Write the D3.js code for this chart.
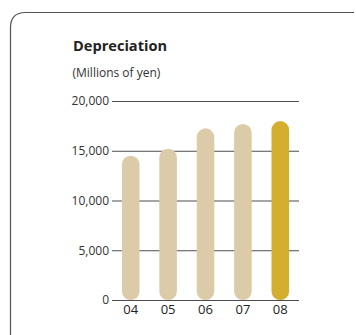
<!DOCTYPE html>
<html>
<head>
<meta charset="utf-8">
<script src="https://cdn.jsdelivr.net/npm/d3@7"></script>
<style>
  html, body { margin: 0; padding: 0; background: #fff; }
  svg { display: block; font-family: "Open Sans", "Noto Sans", sans-serif; }
</style>
</head>
<body>
<svg id="chart" width="356" height="335"></svg>
<script>
// Depreciation by fiscal year (millions of yen)
const years = ["04", "05", "06", "07", "08"];
const depreciation = [14500, 15200, 17250, 17700, 17980];
const yTicks = [0, 5000, 10000, 15000, 20000];
const barColors = ["#dccba9", "#dccba9", "#dccba9", "#dccba9", "#d4ae2f"];

const svg = d3.select("#chart");

// Card frame: rounded top-left corner, open at the right and bottom
const r = 15;
svg.append("path")
  .attr("d", `M10.5,335 L10.5,${12.5 + r} Q10.5,12.5 ${10.5 + r},12.5 L354,12.5`)
  .attr("fill", "none")
  .attr("stroke", "#555")
  .attr("stroke-width", 1.2);

// Titles
svg.append("text")
  .attr("x", 73).attr("y", 51)
  .attr("font-size", 14.6).attr("font-weight", 700).attr("fill", "#222")
  .text("Depreciation");
svg.append("text")
  .attr("x", 72.5).attr("y", 77)
  .attr("font-size", 12).attr("fill", "#333")
  .text("(Millions of yen)");

// Scales
const x = d3.scaleBand()
  .domain(years)
  .range([112, 299])
  .paddingInner(0.53)
  .paddingOuter(0.265);

const y = d3.scaleLinear()
  .domain([0, 20000])
  .range([300, 101]);

// Y axis with full-width gridlines
const yAxis = svg.append("g")
  .attr("transform", "translate(112,0)")
  .call(d3.axisLeft(y)
    .tickValues(yTicks)
    .tickSize(-187)
    .tickPadding(3)
    .tickFormat(d3.format(",")));
yAxis.select(".domain").remove();
yAxis.selectAll(".tick line").attr("stroke", "#4d4d4d").attr("stroke-width", 1.1);
yAxis.selectAll(".tick text")
  .attr("font-size", 12).attr("fill", "#333")
  .attr("font-family", "\"Open Sans\", \"Noto Sans\", sans-serif");

// Bars with fully rounded ends
const bw = x.bandwidth();
svg.append("g").selectAll("rect")
  .data(years)
  .join("rect")
  .attr("x", d => x(d))
  .attr("y", (d, i) => y(depreciation[i]))
  .attr("width", bw)
  .attr("height", (d, i) => y(0) - y(depreciation[i]))
  .attr("rx", bw / 2)
  .attr("ry", bw / 2)
  .attr("fill", (d, i) => barColors[i]);

// X axis labels
const xAxis = svg.append("g")
  .attr("transform", "translate(0,300)")
  .call(d3.axisBottom(x).tickSize(0).tickPadding(5));
xAxis.select(".domain").remove();
xAxis.selectAll(".tick text")
  .attr("font-size", 13).attr("fill", "#222")
  .attr("font-family", "\"Open Sans\", \"Noto Sans\", sans-serif");
</script>
</body>
</html>
